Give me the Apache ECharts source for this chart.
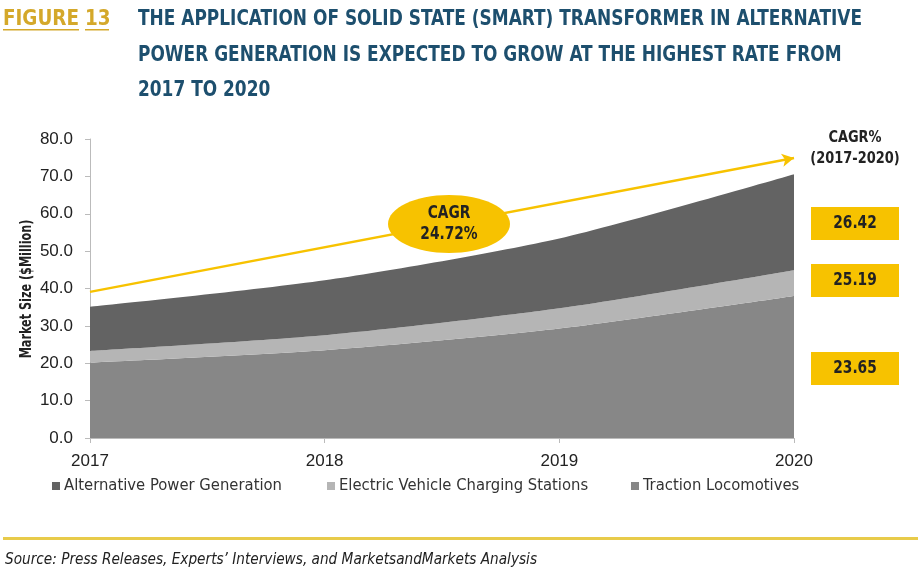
<!DOCTYPE html>
<html>
<head>
<meta charset="utf-8">
<script src="https://cdn.jsdelivr.net/npm/echarts@6/dist/echarts.min.js"></script>
<style>
html,body{margin:0;padding:0;background:#fff;}
#main{width:920px;height:574px;}
</style>
</head>
<body>
<div id="main"></div>
<script>
const years = ['2017', '2018', '2019', '2020'];
const tractionLocomotives = [20.2, 23.5, 29.3, 38.0];
const evChargingStations = [3.1, 4.0, 5.4, 6.9];
const altPowerGeneration = [11.8, 14.7, 18.7, 25.7];
const cagrArrowEnds = [39.1, 74.9];
const overallCagr = '24.72%';
const segmentCagr = ['26.42', '25.19', '23.65'];
const yTicks = [0, 10, 20, 30, 40, 50, 60, 70, 80];
const titleLines = [
  'THE APPLICATION OF SOLID STATE (SMART) TRANSFORMER IN ALTERNATIVE',
  'POWER GENERATION IS EXPECTED TO GROW AT THE HIGHEST RATE FROM',
  '2017 TO 2020'
];
const seriesNames = ['Alternative Power Generation', 'Electric Vehicle Charging Stations', 'Traction Locomotives'];

const chart = echarts.init(document.getElementById('main'));
const gold = '#F7C200';
const condFont = '"DejaVu Sans Condensed", "DejaVu Sans", sans-serif';
const bodyFont = '"Liberation Sans", Arial, sans-serif';

const mctx = document.createElement('canvas').getContext('2d');
function measure(text, font) { mctx.font = font; return mctx.measureText(text).width; }
const titleFontStr = 'bold 22px ' + condFont;
const titleScale = 724 / measure(titleLines[0], titleFontStr);
const figScale = 76 / measure('FIGURE', titleFontStr);
const srcText = 'Source: Press Releases, Experts\u2019 Interviews, and MarketsandMarkets Analysis';
const srcFont = 'italic 15px ' + condFont;
const srcScale = 532 / measure(srcText, srcFont);
const legFont = '16.5px ' + condFont;
const legScale = 218 / measure(seriesNames[0], legFont);

function scaledText(x, y, text, font, scale, fill, align) {
  return { type: 'text', x: x, y: y, scaleX: scale, z: 20,
    style: { text: text, font: font, fill: fill, verticalAlign: 'middle', align: align || 'left' } };
}

const legendLefts = [48, 323, 627];
const legendColors = ['#636363', '#b5b5b5', '#878787'];

const graphics = [
  scaledText(3, 19, 'FIGURE', titleFontStr, figScale, '#D4A82A'),
  scaledText(85, 19, '13', titleFontStr, figScale, '#D4A82A'),
  { type: 'rect', shape: { x: 3, y: 29, width: 76, height: 1.5 }, style: { fill: '#D4A82A' } },
  { type: 'rect', shape: { x: 85, y: 29, width: 24, height: 1.5 }, style: { fill: '#D4A82A' } },
  scaledText(138, 19, titleLines[0], titleFontStr, titleScale, '#1D4F6E'),
  scaledText(138, 55, titleLines[1], titleFontStr, titleScale, '#1D4F6E'),
  scaledText(138, 90, titleLines[2], titleFontStr, titleScale, '#1D4F6E'),
  { type: 'ellipse', shape: { cx: 449, cy: 224, rx: 61, ry: 29 }, style: { fill: gold }, z: 10 },
  { type: 'text', x: 449, y: 224, z: 11, scaleX: 0.9, style: { text: 'CAGR\n' + overallCagr, align: 'center', verticalAlign: 'middle',
    font: 'bold 17px ' + condFont, fill: '#222', lineHeight: 21 } },
  { type: 'text', x: 855, y: 148, scaleX: 0.9, style: { text: 'CAGR%\n(2017-2020)', align: 'center', verticalAlign: 'middle',
    font: 'bold 16px ' + condFont, fill: '#222', lineHeight: 21 } },
  { type: 'rect', shape: { x: 811, y: 207, width: 88, height: 33 }, style: { fill: gold } },
  { type: 'rect', shape: { x: 811, y: 264, width: 88, height: 33 }, style: { fill: gold } },
  { type: 'rect', shape: { x: 811, y: 352, width: 88, height: 33 }, style: { fill: gold } },
  { type: 'rect', shape: { x: 3, y: 537, width: 915, height: 3 }, style: { fill: '#E8CB4A' } },
  scaledText(5, 560, srcText, srcFont, srcScale, '#222'),
  { type: 'text', x: 27, y: 289, rotation: Math.PI / 2, scaleX: 0.78,
    style: { text: 'Market Size ($Million)', font: 'bold 16px ' + condFont, fill: '#222', align: 'center', verticalAlign: 'middle' } }
];
const boxY = [224, 281, 369];
segmentCagr.forEach((v, i) => graphics.push({ type: 'text', x: 855, y: boxY[i], scaleX: 0.9, z: 12,
  style: { text: v, align: 'center', verticalAlign: 'middle', font: 'bold 17px ' + condFont, fill: '#222' } }));
seriesNames.forEach((n, i) => {
  graphics.push({ type: 'rect', shape: { x: legendLefts[i] + 4, y: 482, width: 8, height: 8 }, style: { fill: legendColors[i] } });
  graphics.push(scaledText(legendLefts[i] + 16, 486, n, legFont, legScale, '#333'));
});

chart.setOption({
  animation: false,
  backgroundColor: '#fff',
  grid: { left: 90, right: 126, top: 139, bottom: 136, containLabel: false },
  xAxis: {
    type: 'category', data: years, boundaryGap: false,
    axisLine: { lineStyle: { color: '#bbb', width: 1 } },
    axisTick: { show: true, length: 5, lineStyle: { color: '#bbb' } },
    axisLabel: { fontFamily: bodyFont, fontSize: 17, color: '#222', margin: 15 }
  },
  yAxis: {
    type: 'value', min: 0, max: 80, interval: 10,
    axisLine: { show: true, lineStyle: { color: '#bbb', width: 1 } },
    axisTick: { show: true, length: 5, lineStyle: { color: '#bbb' } },
    splitLine: { show: false },
    axisLabel: { fontFamily: bodyFont, fontSize: 17, color: '#222', margin: 17,
      formatter: v => yTicks.includes(v) ? v.toFixed(1) : '' }
  },
  series: [
    {
      name: seriesNames[2], type: 'line', stack: 'total', data: tractionLocomotives,
      smooth: 0.25, symbol: 'none', lineStyle: { width: 0 },
      itemStyle: { color: legendColors[2] }, areaStyle: { color: legendColors[2], opacity: 1 }, z: 2
    },
    {
      name: seriesNames[1], type: 'line', stack: 'total', data: evChargingStations,
      smooth: 0.25, symbol: 'none', lineStyle: { width: 0 },
      itemStyle: { color: legendColors[1] }, areaStyle: { color: legendColors[1], opacity: 1 }, z: 2
    },
    {
      name: seriesNames[0], type: 'line', stack: 'total', data: altPowerGeneration,
      smooth: 0.25, symbol: 'none', lineStyle: { width: 0 },
      itemStyle: { color: legendColors[0] }, areaStyle: { color: legendColors[0], opacity: 1 }, z: 2,
      markLine: {
        silent: true, symbol: ['none', 'arrow'], symbolSize: [10, 12],
        lineStyle: { color: gold, width: 2.5, type: 'solid' },
        label: { show: false },
        data: [[
          { coord: [years[0], cagrArrowEnds[0]] },
          { coord: [years[3], cagrArrowEnds[1]] }
        ]]
      }
    }
  ],
  graphic: graphics
});
</script>
</body>
</html>
